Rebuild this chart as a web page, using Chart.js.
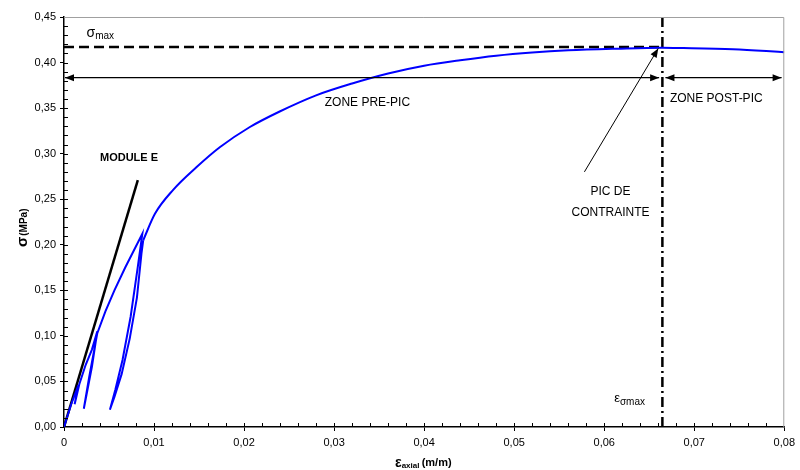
<!DOCTYPE html>
<html>
<head>
<meta charset="utf-8">
<script src="https://cdn.jsdelivr.net/npm/chart.js@4/dist/chart.umd.min.js"></script>
<style>
  html, body { margin: 0; padding: 0; background: #fff; }
  #wrap { width: 800px; height: 470px; }
</style>
</head>
<body>
<div id="wrap"><canvas id="c"></canvas></div>
<script>
/* ─── DATA ─────────────────────────────────────────────── */
// loading / unloading cycles near the origin
const loopStrain = [0, 0.0008, 0.0016, 0.00118, 0.0013, 0.0017, 0.0024, 0.0031, 0.0037,
                    0.0031, 0.0022, 0.0028, 0.0037, 0.0046, 0.0056, 0.0068, 0.0087,
                    0.0082, 0.0074, 0.0065, 0.0057, 0.0051,
                    0.0056, 0.0064, 0.0073, 0.0081, 0.0086, 0.0088];
const loopStress = [0, 0.025, 0.046, 0.025, 0.030, 0.047, 0.068, 0.085, 0.105,
                    0.066, 0.020, 0.055, 0.103, 0.127, 0.150, 0.175, 0.212,
                    0.176, 0.121, 0.0735, 0.041, 0.019,
                    0.033, 0.058, 0.097, 0.142, 0.190, 0.205];
// envelope after the last cycle
const curveStrain = [0.0088, 0.0101, 0.0121, 0.0147, 0.0173, 0.0206, 0.0239, 0.0280, 0.0320,
                     0.0360, 0.0400, 0.0440, 0.0480, 0.0520, 0.0560, 0.0614, 0.0664,
                     0.0688, 0.0743, 0.0780, 0.0800];
const curveStress = [0.205, 0.234, 0.260, 0.285, 0.307, 0.329, 0.346, 0.364, 0.377,
                     0.388, 0.3965, 0.4025, 0.4075, 0.411, 0.4134, 0.4152, 0.4163,
                     0.4159, 0.4145, 0.4126, 0.4113];
// tangent modulus line
const moduleStrain = [0, 0.0082];
const moduleStress = [0, 0.271];

const sigmaMax = 0.417;
const epsSigmaMax = 0.06646;
const zoneArrowY = 0.3834;

const xTicks = [0, 0.01, 0.02, 0.03, 0.04, 0.05, 0.06, 0.07, 0.08];
const yTicks = [0, 0.05, 0.10, 0.15, 0.20, 0.25, 0.30, 0.35, 0.40, 0.45];

const FONT = "'Liberation Sans', Arial, sans-serif";

const pts = (xs, ys) => xs.map((x, i) => ({ x, y: ys[i] }));
const fmtX = v => (Math.abs(v) < 1e-9 ? '0' : v.toFixed(2).replace('.', ','));
const fmtY = v => v.toFixed(2).replace('.', ',');

/* ─── ANNOTATION PLUGIN ────────────────────────────────── */
function arrowHead(ctx, x, y, ang) {
  const len = 9, w = 3.5;
  ctx.save();
  ctx.translate(x, y);
  ctx.rotate(ang);
  ctx.beginPath();
  ctx.moveTo(0, 0);
  ctx.lineTo(-len, -w);
  ctx.lineTo(-len, w);
  ctx.closePath();
  ctx.fill();
  ctx.restore();
}

const annot = {
  id: 'annot',
  afterDraw(chart) {
    const { ctx, chartArea: a, scales: { x, y } } = chart;
    ctx.save();

    // grey top & right frame
    ctx.strokeStyle = '#a0a0a0';
    ctx.lineWidth = 1;
    ctx.beginPath();
    ctx.moveTo(a.left, a.top + 0.5);
    ctx.lineTo(a.right - 0.5, a.top + 0.5);
    ctx.lineTo(a.right - 0.5, a.bottom);
    ctx.stroke();

    // minor ticks inside
    ctx.strokeStyle = '#000';
    ctx.beginPath();
    for (let v = 0.002; v < 0.08; v += 0.002) {
      const px = Math.round(x.getPixelForValue(v)) + 0.5;
      ctx.moveTo(px, a.bottom);
      ctx.lineTo(px, a.bottom - 4);
    }
    for (let v = 0.01; v < 0.45; v += 0.01) {
      const py = Math.round(y.getPixelForValue(v)) + 0.5;
      ctx.moveTo(a.left, py);
      ctx.lineTo(a.left + 4, py);
    }
    ctx.stroke();

    // zone arrows
    ctx.fillStyle = '#000';
    ctx.lineWidth = 1.2;
    const ay = y.getPixelForValue(zoneArrowY);
    const xl = x.getPixelForValue(0) + 1;
    const xm1 = x.getPixelForValue(0.0661);
    const xm2 = x.getPixelForValue(0.0668);
    const xr = x.getPixelForValue(0.0797);
    ctx.beginPath();
    ctx.moveTo(xl, ay); ctx.lineTo(xm1, ay);
    ctx.moveTo(xm2, ay); ctx.lineTo(xr, ay);
    ctx.stroke();
    arrowHead(ctx, xl, ay, Math.PI);
    arrowHead(ctx, xm1, ay, 0);
    arrowHead(ctx, xm2, ay, Math.PI);
    arrowHead(ctx, xr, ay, 0);

    // peak pointer
    const p0x = x.getPixelForValue(0.0578), p0y = y.getPixelForValue(0.280);
    const p1x = x.getPixelForValue(0.0660), p1y = y.getPixelForValue(0.4155);
    ctx.lineWidth = 1;
    ctx.beginPath();
    ctx.moveTo(p0x, p0y); ctx.lineTo(p1x, p1y);
    ctx.stroke();
    arrowHead(ctx, p1x, p1y, Math.atan2(p1y - p0y, p1x - p0x));

    // texts
    ctx.fillStyle = '#000';
    ctx.textBaseline = 'middle';
    ctx.textAlign = 'center';
    ctx.font = `12px ${FONT}`;
    ctx.fillText('ZONE PRE-PIC', x.getPixelForValue(0.0337), y.getPixelForValue(0.3556));
    ctx.fillText('PIC DE', x.getPixelForValue(0.0607), y.getPixelForValue(0.258));
    ctx.fillText('CONTRAINTE', x.getPixelForValue(0.0607), y.getPixelForValue(0.235));
    ctx.textAlign = 'left';
    ctx.fillText('ZONE POST-PIC', x.getPixelForValue(0.0673), y.getPixelForValue(0.360));
    ctx.font = `bold 11px ${FONT}`;
    ctx.fillText('MODULE E', x.getPixelForValue(0.0040), y.getPixelForValue(0.295));

    // sigma max
    let sx = x.getPixelForValue(0.0025), sy = y.getPixelForValue(0.4325);
    ctx.font = `14px ${FONT}`;
    ctx.fillText('σ', sx, sy);
    sx += ctx.measureText('σ').width;
    ctx.font = `10px ${FONT}`;
    ctx.fillText('max', sx, sy + 3);

    // eps sigma max
    sx = x.getPixelForValue(0.0611); sy = y.getPixelForValue(0.0318);
    ctx.font = `13px ${FONT}`;
    ctx.fillText('ε', sx, sy);
    sx += ctx.measureText('ε').width;
    ctx.font = `10px ${FONT}`;
    ctx.fillText('σmax', sx, sy + 4);

    // x-axis title
    ctx.font = `bold 14px ${FONT}`;
    let tx = 395, ty = 463;
    ctx.fillText('ε', tx, ty);
    tx += ctx.measureText('ε').width;
    ctx.font = `bold 8px ${FONT}`;
    ctx.fillText('axial', tx, ty + 3);
    tx += ctx.measureText('axial ').width;
    ctx.font = `bold 11px ${FONT}`;
    ctx.fillText('(m/m)', tx, ty);

    // y-axis title (rotated)
    ctx.save();
    ctx.translate(23, 247);
    ctx.rotate(-Math.PI / 2);
    ctx.font = `bold 15px ${FONT}`;
    ctx.fillText('σ', 0, 0);
    let w = ctx.measureText('σ').width;
    ctx.font = `bold 10px ${FONT}`;
    ctx.fillText('(MPa)', w + 1, 1);
    ctx.restore();

    ctx.restore();
  }
};

/* ─── CHART ────────────────────────────────────────────── */
new Chart(document.getElementById('c'), {
  type: 'scatter',
  data: {
    datasets: [
      { data: pts(loopStrain, loopStress), showLine: true, borderColor: '#0000ff',
        borderWidth: 2, pointRadius: 0, tension: 0 },
      { data: pts(curveStrain, curveStress), showLine: true, borderColor: '#0000ff',
        borderWidth: 2, pointRadius: 0, cubicInterpolationMode: 'monotone' },
      { data: pts(moduleStrain, moduleStress), showLine: true, borderColor: '#000',
        borderWidth: 2.5, pointRadius: 0 },
      { data: [{ x: 0, y: sigmaMax }, { x: epsSigmaMax, y: sigmaMax }], showLine: true,
        borderColor: '#000', borderWidth: 2.5, borderDash: [10, 5], pointRadius: 0 },
      { data: [{ x: epsSigmaMax, y: 0 }, { x: epsSigmaMax, y: 0.45 }], showLine: true,
        borderColor: '#000', borderWidth: 2.5, borderDash: [10, 4, 2, 4], pointRadius: 0 }
    ]
  },
  options: {
    responsive: true,
    maintainAspectRatio: false,
    animation: false,
    layout: { padding: { top: 17, right: 12, left: 0, bottom: 0 } },
    plugins: { legend: { display: false }, tooltip: { enabled: false } },
    scales: {
      x: {
        type: 'linear', min: 0, max: 0.08,
        afterBuildTicks: s => { s.ticks = xTicks.map(v => ({ value: v })); },
        afterFit: s => { s.height = 43; },
        ticks: { callback: v => fmtX(v), font: { family: FONT, size: 11 }, color: '#000',
                 padding: 5, maxRotation: 0 },
        grid: { drawOnChartArea: false, tickLength: 4, color: '#000' },
        border: { color: '#000', width: 1.5 }
      },
      y: {
        min: 0, max: 0.45,
        afterBuildTicks: s => { s.ticks = yTicks.map(v => ({ value: v })); },
        afterFit: s => { s.width = 64; },
        ticks: { callback: v => fmtY(v), font: { family: FONT, size: 11 }, color: '#000',
                 padding: 4 },
        grid: { drawOnChartArea: false, tickLength: 4, color: '#000' },
        border: { color: '#000', width: 1.5 }
      }
    }
  },
  plugins: [annot]
});
</script>
</body>
</html>
